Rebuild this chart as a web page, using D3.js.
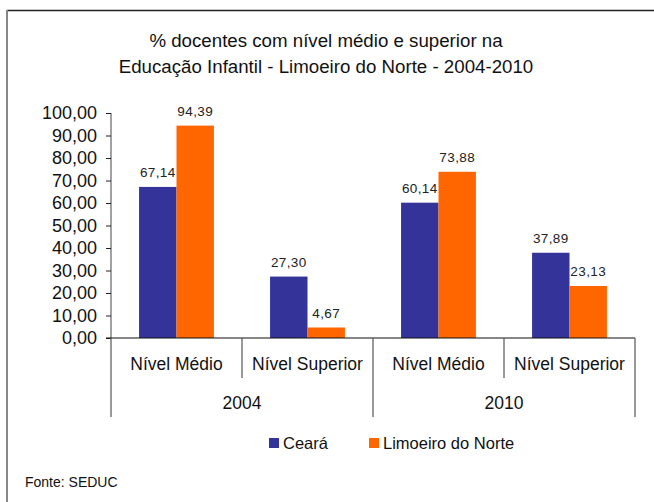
<!DOCTYPE html>
<html>
<head>
<meta charset="utf-8">
<script src="https://cdn.jsdelivr.net/npm/d3@7"></script>
<style>
  html, body { margin: 0; padding: 0; background: #fff; }
  svg { display: block; font-family: "Liberation Sans", Arial, sans-serif; }
</style>
</head>
<body>
<svg id="chart" width="654" height="502"></svg>
<script>
const years = ['2004', '2010'];
const levels = ['Nível Médio', 'Nível Superior'];
const seriesNames = ['Ceará', 'Limoeiro do Norte'];
const cearaValues = [67.14, 27.30, 60.14, 37.89];
const limoeiroValues = [94.39, 4.67, 73.88, 23.13];
const yTickValues = [0, 10, 20, 30, 40, 50, 60, 70, 80, 90, 100];
const titleLines = ['% docentes com nível médio e superior na', 'Educação Infantil - Limoeiro do Norte - 2004-2010'];
const sourceText = 'Fonte: SEDUC';

const colors = ['#333399', '#FF6600'];

const ptBR = d3.formatLocale({ decimal: ',', thousands: '.', grouping: [3], currency: ['R$', ''] });
const fmt = ptBR.format('.2f');

// one row per (year, level) group
const groups = [];
years.forEach((yr, i) => {
    levels.forEach((lv, j) => {
        const k = i * levels.length + j;
        groups.push({ key: yr + '|' + lv, year: yr, level: lv, values: [cearaValues[k], limoeiroValues[k]] });
    });
});

const svg = d3.select('#chart');

const plotLeft = 111, plotRight = 635, plotTop = 113, plotBottom = 338;

const y = d3.scaleLinear().domain([0, 100]).range([plotBottom, plotTop]);
const x0 = d3.scaleBand().domain(groups.map(d => d.key)).range([plotLeft, plotRight]);
const x1 = d3.scaleBand().domain(seriesNames).range([0, x0.bandwidth()]).paddingInner(0).paddingOuter(0.75);
const xYear = d3.scaleBand().domain(years).range([plotLeft, plotRight]);

// frame
svg.append('line')
    .attr('x1', 7).attr('x2', 654).attr('y1', 10.5).attr('y2', 10.5)
    .attr('stroke', '#222').attr('stroke-width', 1.5);
svg.append('line')
    .attr('x1', 7).attr('x2', 7).attr('y1', 10).attr('y2', 502)
    .attr('stroke', '#888').attr('stroke-width', 2);

// title
svg.append('g')
    .selectAll('text')
    .data(titleLines)
    .enter()
    .append('text')
    .attr('x', 326)
    .attr('y', (d, i) => 47 + i * 26)
    .attr('text-anchor', 'middle')
    .attr('font-size', '18.7px')
    .attr('fill', '#111')
    .text(d => d);

// bars
const barGroups = svg.append('g')
    .selectAll('g')
    .data(groups)
    .enter()
    .append('g')
    .attr('transform', d => `translate(${x0(d.key)},0)`);

barGroups.selectAll('rect')
    .data(d => d.values.map((v, i) => ({ name: seriesNames[i], value: v, idx: i })))
    .enter()
    .append('rect')
    .attr('x', d => x1(d.name))
    .attr('y', d => y(d.value))
    .attr('width', x1.bandwidth())
    .attr('height', d => y(0) - y(d.value))
    .attr('fill', d => colors[d.idx]);

barGroups.selectAll('text')
    .data(d => d.values.map((v, i) => ({ name: seriesNames[i], value: v })))
    .enter()
    .append('text')
    .attr('x', d => x1(d.name) + x1.bandwidth() / 2)
    .attr('y', d => y(d.value) - 9.5)
    .attr('text-anchor', 'middle')
    .attr('font-size', '13.5px')
    .attr('letter-spacing', '0.4px')
    .attr('fill', '#222')
    .text(d => fmt(d.value));

// y axis
const yAxis = svg.append('g')
    .attr('transform', `translate(${plotLeft},0)`)
    .call(d3.axisLeft(y).tickValues(yTickValues).tickFormat(fmt).tickSize(5).tickPadding(9));
yAxis.select('.domain').attr('stroke', '#444').attr('d', `M0,${plotTop}V${plotBottom}`);
yAxis.selectAll('.tick line').attr('stroke', '#222');
yAxis.selectAll('.tick text')
    .attr('font-size', '18px')
    .attr('font-family', '"Liberation Sans", Arial, sans-serif')
    .attr('fill', '#111');

// baseline
svg.append('line')
    .attr('x1', plotLeft - 5).attr('x2', plotRight)
    .attr('y1', y(0)).attr('y2', y(0))
    .attr('stroke', '#111').attr('stroke-width', 1.2);

// category separators
const innerSeps = groups.filter((d, i) => i % levels.length !== 0).map(d => x0(d.key));
const outerSeps = years.map(yr => xYear(yr)).concat([plotRight]);

svg.append('g')
    .selectAll('line')
    .data(innerSeps)
    .enter()
    .append('line')
    .attr('x1', d => d).attr('x2', d => d)
    .attr('y1', y(0)).attr('y2', 378)
    .attr('stroke', '#555').attr('stroke-width', 1.2);

svg.append('g')
    .selectAll('line')
    .data(outerSeps)
    .enter()
    .append('line')
    .attr('x1', d => d).attr('x2', d => d)
    .attr('y1', y(0)).attr('y2', 417)
    .attr('stroke', '#555').attr('stroke-width', 1.2);

// level labels
svg.append('g')
    .selectAll('text')
    .data(groups)
    .enter()
    .append('text')
    .attr('x', d => x0(d.key) + x0.bandwidth() / 2)
    .attr('y', 370)
    .attr('text-anchor', 'middle')
    .attr('font-size', '17.5px')
    .attr('fill', '#111')
    .text(d => d.level);

// year labels
svg.append('g')
    .selectAll('text')
    .data(years)
    .enter()
    .append('text')
    .attr('x', d => xYear(d) + xYear.bandwidth() / 2)
    .attr('y', 409)
    .attr('text-anchor', 'middle')
    .attr('font-size', '17.5px')
    .attr('fill', '#111')
    .text(d => d);

// legend
const legendX = [269, 369];
const legend = svg.append('g')
    .selectAll('g')
    .data(seriesNames)
    .enter()
    .append('g')
    .attr('transform', (d, i) => `translate(${legendX[i]},438)`);
legend.append('rect')
    .attr('width', 10).attr('height', 10)
    .attr('fill', (d, i) => colors[i]);
legend.append('text')
    .attr('x', 14).attr('y', 10.5)
    .attr('font-size', '16.5px')
    .attr('fill', '#111')
    .text(d => d);

// source
svg.append('text')
    .attr('x', 25).attr('y', 487)
    .attr('font-size', '14px')
    .attr('fill', '#111')
    .text(sourceText);
</script>
</body>
</html>
